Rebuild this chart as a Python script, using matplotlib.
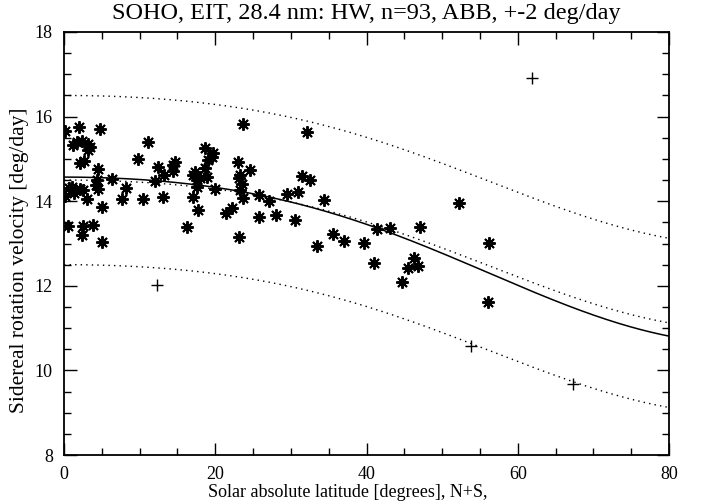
import numpy as np
import matplotlib
matplotlib.use("Agg")
import matplotlib.pyplot as plt
from matplotlib.ticker import MultipleLocator

# Asterisk points (accepted, within +-2 deg/day)
lat_in = [0.13, 1.98, 4.76, 1.19, 1.72, 2.38, 3.17, 3.44, 11.11, 2.12, 2.64, 9.79,
          4.50, 6.35, 4.36, 4.23, 4.50, 1.06, 0.66, 2.12, 2.51, 0.13, 3.04, 8.20,
          7.67, 10.45, 5.02, 0.53, 2.51, 3.83, 2.38, 5.02,
          12.43, 14.68, 14.41, 14.41, 13.22, 12.03, 13.09, 18.64, 19.70, 19.57, 19.04,
          18.64, 17.32, 17.06, 18.91, 17.59, 17.59, 19.97, 17.06, 17.72, 21.42, 22.21,
          16.26,
          23.67, 32.13, 23.01, 23.27, 23.14, 24.60, 23.27, 23.67, 25.79, 27.11, 29.49,
          30.94, 31.47, 32.53, 25.79, 28.03, 30.55, 23.14, 33.45,
          34.38, 35.57, 37.02, 39.67, 41.39, 43.11, 47.07, 40.99, 46.28, 46.81, 45.49,
          44.69, 52.23, 56.20, 56.07,
          1.30, 3.20, 18.00, 23.50]
vel_in = [15.66, 15.75, 15.71, 15.33, 15.40, 15.42, 15.21, 15.28, 15.40, 14.90, 14.95, 15.00,
          14.76, 14.52, 14.50, 14.38, 14.29, 14.34, 14.31, 14.29, 14.26, 14.12, 14.05, 14.31,
          14.05, 14.05, 13.86, 13.41, 13.41, 13.44, 13.20, 13.04,
          14.81, 14.93, 14.86, 14.71, 14.62, 14.48, 14.10, 15.26, 15.14, 15.04, 14.97,
          14.78, 14.69, 14.62, 14.57, 14.50, 14.34, 14.29, 14.10, 13.79, 13.72, 13.84,
          13.39,
          15.83, 15.64, 14.93, 14.62, 14.55, 14.74, 14.26, 14.08, 14.15, 14.00, 14.17,
          14.22, 14.60, 14.50, 13.63, 13.67, 13.56, 13.15, 12.94,
          14.03, 13.22, 13.06, 13.01, 13.34, 13.37, 13.39, 12.54, 12.66, 12.47, 12.42,
          12.09, 13.96, 13.01, 11.62,
          14.20, 15.35, 14.55, 14.40]

# Rejected points (plus signs)
lat_out = [12.3, 53.8, 61.9, 67.3]
vel_out = [12.02, 10.58, 16.91, 9.68]

# Fit laws: A + B sin^2 + C sin^4
ref_coef = [14.50, -1.59, -1.95]
fit_coef = [14.57, -1.83, -2.11]
band = 2.0

title = "SOHO, EIT, 28.4 nm: HW, n=93, ABB, +-2 deg/day"
xlabel = "Solar absolute latitude [degrees], N+S,"
ylabel = "Sidereal rotation velocity [deg/day]"

plt.rcParams['font.family'] = ['Liberation Serif', 'DejaVu Serif']

fig = plt.figure(figsize=(7.02, 5.04), dpi=100)
ax = fig.add_axes([64/702, 1-455/504, (669-64)/702, (455-32)/504])

phi = np.linspace(0, 80, 400)
s2 = np.sin(np.radians(phi))**2
ref = ref_coef[0] + ref_coef[1]*s2 + ref_coef[2]*s2**2
fit = fit_coef[0] + fit_coef[1]*s2 + fit_coef[2]*s2**2

dot = (0, (1, 3))
ax.plot(phi, ref, color='black', lw=1.0, ls=dot)
ax.plot(phi, ref + band, color='black', lw=1.0, ls=dot)
ax.plot(phi, ref - band, color='black', lw=1.0, ls=dot)
ax.plot(phi, fit, color='black', lw=1.1)

ax.plot(lat_in, vel_in, ls='none', marker=(8, 2, 0), ms=9, mew=1.4, color='black')
ax.plot(lat_out, vel_out, ls='none', marker='+', ms=9, mew=1.0, color='black')

ax.set_xlim(0, 80)
ax.set_ylim(8, 18)
ax.xaxis.set_major_locator(MultipleLocator(20))
ax.xaxis.set_minor_locator(MultipleLocator(5))
ax.yaxis.set_major_locator(MultipleLocator(2))
ax.yaxis.set_minor_locator(MultipleLocator(0.5))
ax.tick_params(which='both', direction='in', top=True, right=True, color='black',
               labelsize=13, width=1.0)
ax.tick_params(which='major', length=9, pad=8)
ax.tick_params(which='minor', length=5)
for sp in ax.spines.values():
    sp.set_linewidth(1.3)

ax.set_title(title, fontsize=17.5, pad=9)
ax.set_xlabel(xlabel, fontsize=13)
ax.xaxis.set_label_coords(0.469, -0.068)
ax.set_ylabel(ylabel, fontsize=15.5)
ax.yaxis.set_label_coords(-0.058, 0.461)

fig.savefig("out.png", dpi=100)
